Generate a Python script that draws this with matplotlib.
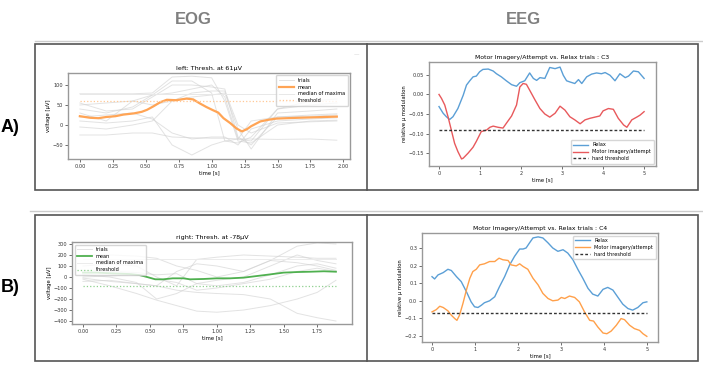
import numpy as np
import matplotlib
matplotlib.use("Agg")
import matplotlib.pyplot as plt
from matplotlib.lines import Line2D
from matplotlib.patches import Rectangle

W, H = 703, 374

# ---------------- data ----------------
# EOG left trials
eog_a_t = [0, 0.2, 0.4, 0.55, 0.7, 0.85, 1.0, 1.1, 1.2, 1.3, 1.5, 1.75, 1.95]
eog_a_trials = [
    [-25, -25, -20, -20, -30, -32, -33, -33, -35, -35, -36, -35, -38],
    [78, 78, 78, 80, 120, 122, 118, 60, -40, -45, 0, 10, 12],
    [55, 35, 40, 70, 100, 100, 95, 90, -30, -50, 20, 25, 28],
    [40, 30, 45, 75, 110, 110, 80, -40, -45, -30, 40, 50, 55],
    [10, 5, 10, 20, -50, -75, -50, -40, -35, 10, 20, 22, 25],
    [-5, -10, 0, 10, 60, 80, 85, 85, 0, -20, 5, 8, 10],
    [30, 10, 60, 75, 80, 90, 100, 70, -35, -40, 40, 60, 65],
    [20, 25, 30, 15, -20, -35, -30, -30, -50, -10, 10, 15, 18],
    [50, 55, 60, 50, 60, 70, 75, 80, -10, -60, 30, 35, 40],
]
eog_a_mean_t = [0, 0.08, 0.14, 0.2, 0.27, 0.33, 0.41, 0.47, 0.51, 0.56, 0.61, 0.66,
                0.73, 0.81, 0.86, 0.91, 0.96, 1.01, 1.05, 1.09, 1.14, 1.19, 1.23,
                1.27, 1.3, 1.37, 1.43, 1.49, 1.57, 1.65, 1.75, 1.85, 1.95]
eog_a_mean = [22, 18, 17, 20, 22, 26, 29, 33, 38, 47, 57, 63, 62, 66, 64, 54, 45, 37,
              31, 17, 5, -9, -16, -10, -3, 9, 13, 16, 17, 18, 19, 20, 21]
eog_a_thresh = 61
eog_a_median = 78

# EOG right trials
eog_b_t = [0, 0.2, 0.4, 0.55, 0.7, 0.85, 1.0, 1.2, 1.4, 1.6, 1.75, 1.89]
eog_b_trials = [
    [-20, -80, -150, -210, -260, -310, -320, -300, -260, -200, -140, -30],
    [-10, -40, -60, -80, -120, -140, -150, -160, -200, -330, -370, -400],
    [200, 200, 190, 170, 100, 60, 0, 50, 150, 280, 310, 300],
    [20, 0, -50, -200, -150, -60, -30, 0, 100, 200, 150, 120],
    [100, 120, 100, 0, -80, 160, 180, 200, 190, 180, 170, 170],
    [-40, -30, -60, -80, 50, 120, 100, 50, 150, 130, 100, 60],
    [0, 10, 20, -20, -50, -120, -100, -60, -20, 50, 80, 50],
    [60, 50, 40, 20, 30, -60, -80, -50, 20, 100, 120, 80],
]
eog_b_mean_t = [0, 0.1, 0.22, 0.35, 0.42, 0.47, 0.54, 0.6, 0.67, 0.75, 0.8, 0.9, 1.0,
                1.1, 1.2, 1.3, 1.4, 1.5, 1.6, 1.7, 1.8, 1.89]
eog_b_mean = [40, 40, 33, 27, 18, 3, -21, -21, -12, -12, -21, -18, -12, -12, -6, 9,
              24, 40, 45, 48, 52, 48]
eog_b_thresh = -78
eog_b_median = 160

# EEG C3
c3_relax_t = [0, 0.1, 0.18, 0.26, 0.34, 0.46, 0.59, 0.67, 0.75, 0.83, 0.91, 0.99,
              1.07, 1.2, 1.32, 1.4, 1.52, 1.64, 1.77, 1.89, 1.97, 2.09, 2.21, 2.3,
              2.38, 2.46, 2.58, 2.7, 2.83, 2.95, 3.03, 3.11, 3.19, 3.31, 3.4, 3.48,
              3.6, 3.72, 3.84, 3.96, 4.05, 4.17, 4.29, 4.41, 4.54, 4.62, 4.74, 4.86, 5.0]
c3_relax = [-0.031, -0.048, -0.057, -0.064, -0.057, -0.036, -0.002, 0.024, 0.035,
            0.045, 0.047, 0.058, 0.064, 0.065, 0.060, 0.053, 0.045, 0.035, 0.025,
            0.021, 0.030, 0.035, 0.055, 0.041, 0.036, 0.043, 0.041, 0.069, 0.066,
            0.070, 0.049, 0.035, 0.032, 0.028, 0.038, 0.028, 0.045, 0.052, 0.055,
            0.053, 0.056, 0.049, 0.035, 0.053, 0.043, 0.047, 0.060, 0.058, 0.041]
c3_motor_t = [0, 0.06, 0.14, 0.22, 0.3, 0.38, 0.46, 0.55, 0.59, 0.71, 0.83, 0.91,
              1.03, 1.16, 1.24, 1.32, 1.44, 1.56, 1.64, 1.77, 1.89, 1.97, 2.05, 2.13,
              2.21, 2.34, 2.46, 2.58, 2.7, 2.83, 2.95, 3.07, 3.19, 3.31, 3.44, 3.56,
              3.68, 3.8, 3.92, 4.0, 4.13, 4.25, 4.37, 4.5, 4.58, 4.7, 4.82, 4.9, 5.0]
c3_motor = [0.000, -0.010, -0.027, -0.057, -0.091, -0.125, -0.146, -0.165, -0.163,
            -0.150, -0.135, -0.120, -0.095, -0.091, -0.084, -0.081, -0.084, -0.086,
            -0.074, -0.055, -0.027, 0.019, 0.028, 0.026, 0.011, -0.014, -0.036,
            -0.050, -0.058, -0.048, -0.030, -0.040, -0.057, -0.065, -0.075, -0.065,
            -0.061, -0.058, -0.055, -0.042, -0.036, -0.038, -0.061, -0.078, -0.084,
            -0.065, -0.058, -0.053, -0.044]
c3_thresh = -0.092

# EEG C4
c4_relax_t = [0, 0.06, 0.14, 0.26, 0.37, 0.45, 0.57, 0.68, 0.8, 0.91, 0.99, 1.07,
              1.15, 1.22, 1.34, 1.46, 1.57, 1.69, 1.81, 1.92, 2.04, 2.12, 2.19, 2.27,
              2.35, 2.47, 2.58, 2.7, 2.81, 2.93, 3.05, 3.16, 3.28, 3.4, 3.51, 3.63,
              3.74, 3.86, 3.98, 4.09, 4.21, 4.33, 4.44, 4.56, 4.67, 4.79, 4.91, 5.0]
c4_relax = [0.137, 0.124, 0.147, 0.160, 0.179, 0.172, 0.137, 0.109, 0.052, -0.006,
            -0.034, -0.038, -0.025, -0.011, 0.000, 0.023, 0.080, 0.137, 0.205, 0.252,
            0.294, 0.294, 0.300, 0.329, 0.357, 0.363, 0.357, 0.329, 0.300, 0.281,
            0.290, 0.271, 0.233, 0.176, 0.128, 0.071, 0.038, 0.027, 0.065, 0.076,
            0.061, 0.019, -0.019, -0.044, -0.053, -0.038, -0.011, -0.006]
c4_motor_t = [0, 0.1, 0.18, 0.26, 0.37, 0.45, 0.53, 0.58, 0.64, 0.72, 0.8, 0.88,
              0.95, 1.03, 1.11, 1.22, 1.34, 1.46, 1.56, 1.65, 1.77, 1.84, 1.96, 2.04,
              2.12, 2.23, 2.35, 2.47, 2.58, 2.7, 2.81, 2.93, 3.01, 3.09, 3.2, 3.32,
              3.43, 3.55, 3.67, 3.76, 3.86, 3.98, 4.07, 4.17, 4.29, 4.4, 4.48, 4.6,
              4.71, 4.83, 4.91, 5.0]
c4_motor = [-0.063, -0.050, -0.031, -0.038, -0.057, -0.082, -0.101, -0.111, -0.082,
            -0.015, 0.061, 0.128, 0.166, 0.179, 0.204, 0.210, 0.223, 0.223, 0.242,
            0.233, 0.229, 0.204, 0.198, 0.210, 0.195, 0.179, 0.128, 0.090, 0.042,
            0.013, 0.000, 0.004, 0.019, 0.013, 0.027, 0.019, -0.006, -0.063, -0.111,
            -0.115, -0.149, -0.183, -0.187, -0.172, -0.139, -0.101, -0.107, -0.139,
            -0.158, -0.168, -0.187, -0.202]
c4_thresh = -0.067

# ---------------- figure ----------------
plt.rcParams['font.family'] = ['DejaVu Sans']
fig = plt.figure(figsize=(W / 100, H / 100), dpi=100)


def px_axes(x0, y0, x1, y1):
    return fig.add_axes([x0 / W, 1 - y1 / H, (x1 - x0) / W, (y1 - y0) / H])


def fig_line(xs, ys, **kw):
    fig.add_artist(Line2D([x / W for x in xs], [1 - y / H for y in ys],
                          transform=fig.transFigure, **kw))


def style(ax):
    for s in ax.spines.values():
        s.set_color('#999999')
        s.set_linewidth(1.0)
    ax.tick_params(labelsize=3.6, length=2, width=0.5, pad=1.5, colors='#333333')


# outer frames of the screenshot
for top, bot, grey_y, gx0 in [(44, 190, 41, 35), (215, 361, 211, 30)]:
    fig_line([gx0, 703], [grey_y, grey_y], color='#cccccc', lw=1.0)
    fig.add_artist(Rectangle((35 / W, 1 - bot / H), (698 - 35) / W, (bot - top) / H,
                             transform=fig.transFigure, fill=False,
                             edgecolor='#555555', lw=1.2))
    fig_line([367, 367], [top, bot], color='#555555', lw=1.2)

fig.text(193 / W, 1 - 19 / H, 'EOG', ha='center', va='center', fontsize=12,
         fontweight='bold', color='#808080', family='Liberation Sans')
fig.text(523 / W, 1 - 19 / H, 'EEG', ha='center', va='center', fontsize=12,
         fontweight='bold', color='#808080', family='Liberation Sans')
fig.text(10 / W, 1 - 127 / H, 'A)', ha='center', va='center', fontsize=13,
         fontweight='bold', color='black', family='Liberation Sans')
fig.text(10 / W, 1 - 288 / H, 'B)', ha='center', va='center', fontsize=13,
         fontweight='bold', color='black', family='Liberation Sans')
fig.text(356 / W, 1 - 55 / H, '—', ha='center', va='center', fontsize=4,
         color='#cccccc')

leg_kw = dict(fontsize=3.6, frameon=True, handlelength=3, borderpad=0.5,
              labelspacing=0.35, framealpha=0.8)

# ---- A) EOG ----
ax = px_axes(68, 73, 350, 159)
for i, tr in enumerate(eog_a_trials):
    ax.plot(eog_a_t, tr, color='#d0d0d0', lw=0.7, alpha=0.6,
            label='trials' if i == 0 else None)
ax.plot(eog_a_mean_t, eog_a_mean, color='#ffa455', lw=1.6, label='mean')
ax.plot([0, 1.95], [eog_a_median] * 2, color='#e8e8e8', lw=0.7,
        label='median of maxima')
ax.plot([0, 1.95], [eog_a_thresh] * 2, color='#ffc896', lw=0.9, ls=':',
        label='threshold')
ax.set_xlim(-0.09, 2.05)
ax.set_ylim(-85, 130)
ax.set_xticks(np.arange(0, 2.01, 0.25))
ax.set_xticklabels([f'{v:.2f}' for v in np.arange(0, 2.01, 0.25)])
ax.set_yticks([-50, 0, 50, 100])
ax.set_title('left: Thresh. at 61μV', fontsize=4.6, pad=2)
ax.set_xlabel('time [s]', fontsize=3.8, labelpad=1)
ax.set_ylabel('voltage [μV]', fontsize=3.8, labelpad=1)
style(ax)
ax.legend(loc='upper right', **leg_kw)

# ---- A) EEG ----
ax = px_axes(429, 62, 656, 166)
ax.plot(c3_relax_t, c3_relax, color='#5b9fd6', lw=1.0, label='Relax')
ax.plot(c3_motor_t, c3_motor, color='#e8595c', lw=1.0, label='Motor imagery/attempt')
ax.plot([0, 5], [c3_thresh] * 2, color='#333333', lw=1.0, ls='--',
        dashes=(2, 1.5), label='hard threshold')
ax.set_xlim(-0.244, 5.29)
ax.set_ylim(-0.183, 0.083)
ax.set_xticks(range(6))
ax.set_yticks([-0.15, -0.10, -0.05, 0.00, 0.05])
ax.set_yticklabels(['−0.15', '−0.10', '−0.05', '0.00', '0.05'])
ax.set_title('Motor Imagery/Attempt vs. Relax trials : C3', fontsize=4.4, pad=2)
ax.set_xlabel('time [s]', fontsize=3.8, labelpad=1)
ax.set_ylabel('relative μ modulation', fontsize=3.8, labelpad=1)
style(ax)
ax.legend(loc='lower right', **leg_kw)

# ---- B) EOG ----
ax = px_axes(72, 242, 352, 324)
for i, tr in enumerate(eog_b_trials):
    ax.plot(eog_b_t, tr, color='#d0d0d0', lw=0.7, alpha=0.6,
            label='trials' if i == 0 else None)
ax.plot(eog_b_mean_t, eog_b_mean, color='#4fb04f', lw=1.3, label='mean')
ax.plot([0, 1.89], [eog_b_median] * 2, color='#ececec', lw=0.7,
        label='median of maxima')
ax.plot([0, 1.89], [eog_b_thresh] * 2, color='#8fd08f', lw=0.9, ls=':',
        label='threshold')
ax.set_xlim(-0.082, 2.01)
ax.set_ylim(-427, 318)
ax.set_xticks(np.arange(0, 1.76, 0.25))
ax.set_xticklabels([f'{v:.2f}' for v in np.arange(0, 1.76, 0.25)])
ax.set_yticks(range(-400, 301, 100))
ax.set_title('right: Thresh. at -78μV', fontsize=4.6, pad=2)
ax.set_xlabel('time [s]', fontsize=3.8, labelpad=1)
ax.set_ylabel('voltage [μV]', fontsize=3.8, labelpad=1)
style(ax)
ax.legend(loc='upper left', **leg_kw)

# ---- B) EEG ----
ax = px_axes(422, 233, 658, 342)
ax.plot(c4_relax_t, c4_relax, color='#5b9fd6', lw=1.0, label='Relax')
ax.plot(c4_motor_t, c4_motor, color='#ffa04a', lw=1.0, label='Motor imagery/attempt')
ax.plot([0, 5], [c4_thresh] * 2, color='#333333', lw=1.0, ls='--',
        dashes=(2, 1.5), label='hard threshold')
ax.set_xlim(-0.233, 5.26)
ax.set_ylim(-0.234, 0.385)
ax.set_xticks(range(6))
ax.set_yticks([-0.2, -0.1, 0.0, 0.1, 0.2, 0.3])
ax.set_yticklabels(['−0.2', '−0.1', '0.0', '0.1', '0.2', '0.3'])
ax.set_title('Motor Imagery/Attempt vs. Relax trials : C4', fontsize=4.4, pad=2)
ax.set_xlabel('time [s]', fontsize=3.8, labelpad=1)
ax.set_ylabel('relative μ modulation', fontsize=3.8, labelpad=1)
style(ax)
ax.legend(loc='upper right', **leg_kw)

fig.savefig('out.png', dpi=100)
